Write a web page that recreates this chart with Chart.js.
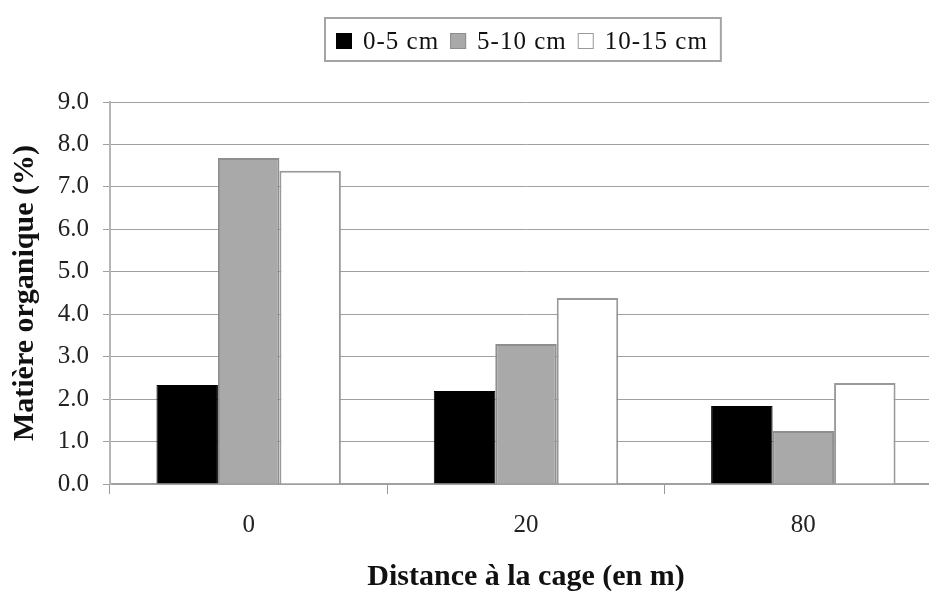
<!DOCTYPE html>
<html>
<head>
<meta charset="utf-8">
<script src="https://cdn.jsdelivr.net/npm/chart.js@4/dist/chart.umd.min.js"></script>
<style>
html, body { margin: 0; padding: 0; overflow: hidden; background: #fff; }
#wrap { width: 944px; height: 591px; }
</style>
</head>
<body>
<div id="wrap"><canvas id="c" width="944" height="591"></canvas></div>
<script>
// ---- data ----
const categories = ['0', '20', '80'];
const seriesLabels = ['0-5 cm', '5-10 cm', '10-15 cm'];
const depth0to5 = [2.33, 2.19, 1.84];
const depth5to10 = [7.68, 3.30, 1.25];
const depth10to15 = [7.38, 4.38, 2.38];
const yTickValues = [0, 1, 2, 3, 4, 5, 6, 7, 8, 9];
const yTitle = 'Matière organique (%)';
const xTitle = 'Distance à la cage (en m)';

const fills = ['#000000', '#a9a9a9', '#ffffff'];
const borders = ['#000000', '#8e8e8e', '#999999'];
const serif = "'Liberation Serif', 'Times New Roman', serif";

const legendBox = {
  id: 'legendBox',
  afterDraw(chart) {
    const ctx = chart.ctx;
    ctx.save();
    ctx.font = '25px ' + serif;
    if ('letterSpacing' in ctx) ctx.letterSpacing = '1px';
    ctx.textBaseline = 'middle';
    ctx.textAlign = 'left';
    const cy = 41;
    const sq = 16;
    let x = 336;
    chart.data.datasets.forEach((ds) => {
      ctx.fillStyle = ds.backgroundColor;
      ctx.fillRect(x, cy - sq / 2, sq, sq);
      ctx.lineWidth = 1;
      ctx.strokeStyle = ds.borderColor;
      ctx.strokeRect(x + 0.5, cy - sq / 2 + 0.5, sq - 1, sq - 1);
      ctx.fillStyle = '#111';
      ctx.fillText(ds.label, x + sq + 11, cy + 1);
      x += sq + 11 + ctx.measureText(ds.label).width + 11;
    });
    const right = x + 2;
    ctx.strokeStyle = '#a5a5a5';
    ctx.lineWidth = 2;
    ctx.strokeRect(325, 18, right - 325, 43);
    if ('letterSpacing' in ctx) ctx.letterSpacing = '0px';
    ctx.restore();
  }
};

new Chart(document.getElementById('c'), {
  type: 'bar',
  data: {
    labels: categories,
    datasets: [
      { label: seriesLabels[0], data: depth0to5, backgroundColor: fills[0], borderColor: borders[0], borderWidth: 1 },
      { label: seriesLabels[1], data: depth5to10, backgroundColor: fills[1], borderColor: borders[1], borderWidth: 2 },
      { label: seriesLabels[2], data: depth10to15, backgroundColor: fills[2], borderColor: borders[2], borderWidth: 2 }
    ]
  },
  options: {
    responsive: false,
    animation: false,
    devicePixelRatio: 1,
    layout: { padding: { top: 102, left: 0, right: 2, bottom: 0 } },
    datasets: { bar: { categoryPercentage: 0.665, barPercentage: 1.0 } },
    plugins: { legend: { display: false }, tooltip: { enabled: false } },
    scales: {
      x: {
        offset: true,
        grid: { display: true, drawOnChartArea: false, offset: true, tickLength: 10, color: '#999', lineWidth: 1 },
        border: { display: true, color: '#a0a0a0', width: 2 },
        ticks: { color: '#222', font: { family: serif, size: 25 }, padding: 16, maxRotation: 0, autoSkip: false },
        title: { display: true, text: xTitle, color: '#111', font: { family: serif, size: 30, weight: 'bold', lineHeight: 0.9 }, padding: { top: 0, bottom: 0 } },
        afterFit(scale) { scale.height = 107; }
      },
      y: {
        min: 0,
        max: 9,
        afterBuildTicks(scale) { scale.ticks = yTickValues.map(v => ({ value: v })); },
        grid: { color: '#a0a0a0', lineWidth: 1, tickLength: 7 },
        border: { display: true, color: '#b5b5b5', width: 2 },
        ticks: { color: '#222', font: { family: serif, size: 25 }, padding: 14, callback: v => Number(v).toFixed(1) },
        title: { display: true, text: yTitle, color: '#111', font: { family: serif, size: 30, weight: 'bold', lineHeight: 1.2 }, padding: { top: 7, bottom: 0 } },
        afterFit(scale) { scale.width = 110; }
      }
    }
  },
  plugins: [legendBox]
});
</script>
</body>
</html>
